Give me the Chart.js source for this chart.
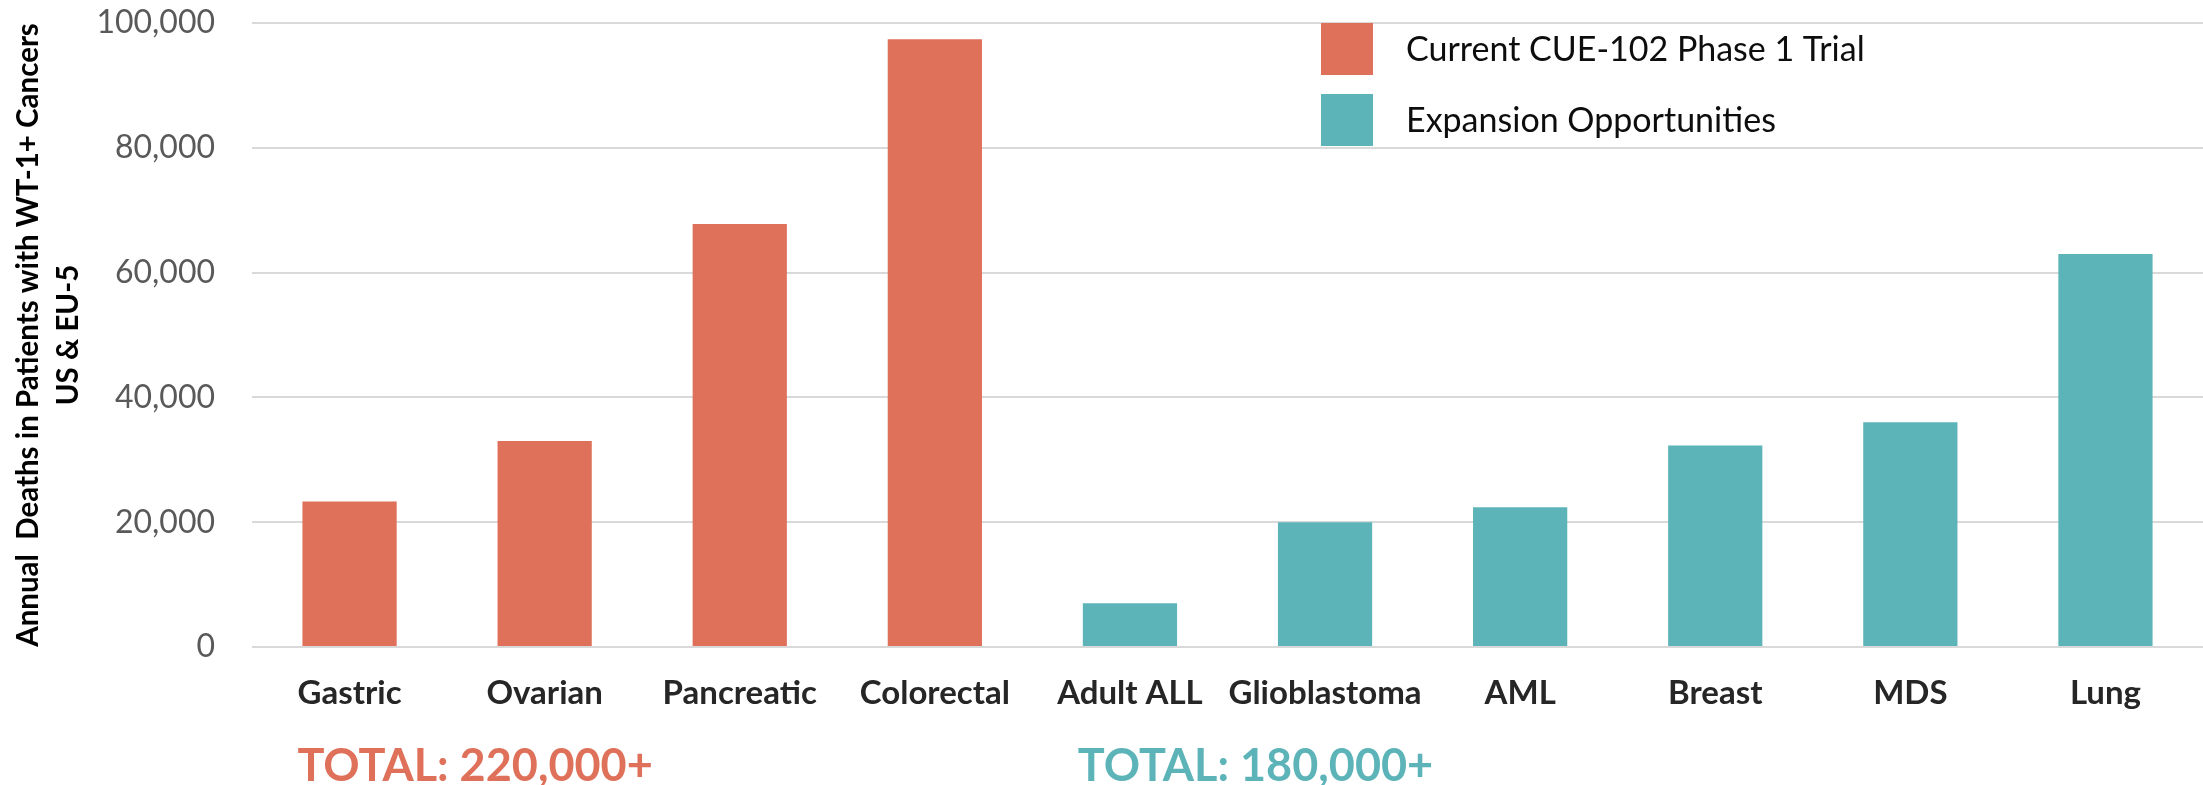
<!DOCTYPE html>
<html>
<head>
<meta charset="utf-8">
<script src="https://cdn.jsdelivr.net/npm/chart.js@4/dist/chart.umd.min.js"></script>
<style>
  html, body { margin: 0; padding: 0; background: #ffffff; }
  #wrap { position: relative; width: 2203px; height: 785px; }
</style>
</head>
<body>
<div id="wrap"><canvas id="chart" width="2203" height="785"></canvas></div>
<script>
// Cancer types along the x axis
const categories = ['Gastric', 'Ovarian', 'Pancreatic', 'Colorectal', 'Adult ALL',
                    'Glioblastoma', 'AML', 'Breast', 'MDS', 'Lung'];

// Annual deaths in patients with WT-1+ cancers (US & EU-5)
const currentTrial = [23300, 33000, 67800, 97400, null, null, null, null, null, null];
const expansion    = [null, null, null, null, 7000, 20000, 22400, 32300, 36000, 63000];

// Value axis
const yTickValues = [0, 20000, 40000, 60000, 80000, 100000];

// Series names and the summary line printed under each group
const seriesNames = ['Current CUE-102 Phase 1 Trial', 'Expansion Opportunities'];
const groupTotals = ['TOTAL: 220,000+', 'TOTAL: 180,000+'];

const ORANGE = '#DF7059';
const TEAL = '#5DB4B8';
const FONT = 'Lato, "Open Sans", sans-serif';

// Legend block and group totals drawn on the canvas
const annotations = {
  id: 'annotations',
  afterDraw(chart) {
    const ctx = chart.ctx;
    ctx.save();
    // legend
    const items = chart.data.datasets.map(d => ({ text: d.label, color: d.backgroundColor }));
    const boxX = 1321, boxSize = 52, rowTops = [23, 94], textX = 1406;
    items.forEach((it, i) => {
      ctx.fillStyle = it.color;
      ctx.fillRect(boxX, rowTops[i], boxSize, boxSize);
      ctx.fillStyle = '#0d0d0d';
      ctx.font = '34px ' + FONT;
      ctx.textAlign = 'left';
      ctx.textBaseline = 'middle';
      ctx.fillText(it.text, textX, rowTops[i] + boxSize / 2 + 1);
    });
    // totals, left-aligned to the first bar of each group
    const firstIndex = [0, 4];
    ctx.font = 'bold 45px ' + FONT;
    ctx.textBaseline = 'alphabetic';
    chart.data.datasets.forEach((d, i) => {
      const bar = chart.getDatasetMeta(i).data[firstIndex[i]];
      const left = bar.x - bar.width / 2 - 5;
      ctx.fillStyle = d.backgroundColor;
      ctx.fillText(groupTotals[i], left, 781);
    });
    ctx.restore();
  }
};

new Chart(document.getElementById('chart'), {
  type: 'bar',
  data: {
    labels: categories,
    datasets: [
      { label: seriesNames[0], data: currentTrial, backgroundColor: ORANGE,
        categoryPercentage: 1, barPercentage: 0.483 },
      { label: seriesNames[1], data: expansion, backgroundColor: TEAL,
        categoryPercentage: 1, barPercentage: 0.483 }
    ]
  },
  options: {
    responsive: false,
    animation: false,
    layout: { padding: { top: 23, right: 0, bottom: 0, left: 0 } },
    plugins: {
      legend: { display: false },
      tooltip: { enabled: false }
    },
    scales: {
      x: {
        stacked: true,
        grid: { display: false, drawTicks: false },
        border: { display: false },
        ticks: {
          color: '#262626',
          font: { family: FONT, size: 33, weight: 'bold' },
          padding: 27,
          maxRotation: 0,
          autoSkip: false
        },
        afterFit(scale) { scale.height = 138; }
      },
      y: {
        stacked: true,
        min: 0,
        max: 100000,
        afterBuildTicks(scale) { scale.ticks = yTickValues.map(v => ({ value: v })); },
        grid: { color: '#D9D9D9', lineWidth: 2, drawTicks: true, tickLength: 37,
                tickColor: 'rgba(0,0,0,0)' },
        border: { display: false },
        ticks: {
          color: '#595959',
          font: { family: FONT, size: 32 },
          padding: 0,
          callback: v => v.toLocaleString('en-US')
        },
        title: {
          display: true,
          text: ['Annual  Deaths in Patients with WT-1+ Cancers', 'US & EU-5'],
          color: '#000000',
          font: { family: FONT, size: 29.5, weight: 'bold', lineHeight: 1.36 },
          padding: { top: 8, bottom: 0 }
        },
        afterFit(scale) { scale.width = 252; }
      }
    }
  },
  plugins: [annotations]
});
</script>
</body>
</html>
